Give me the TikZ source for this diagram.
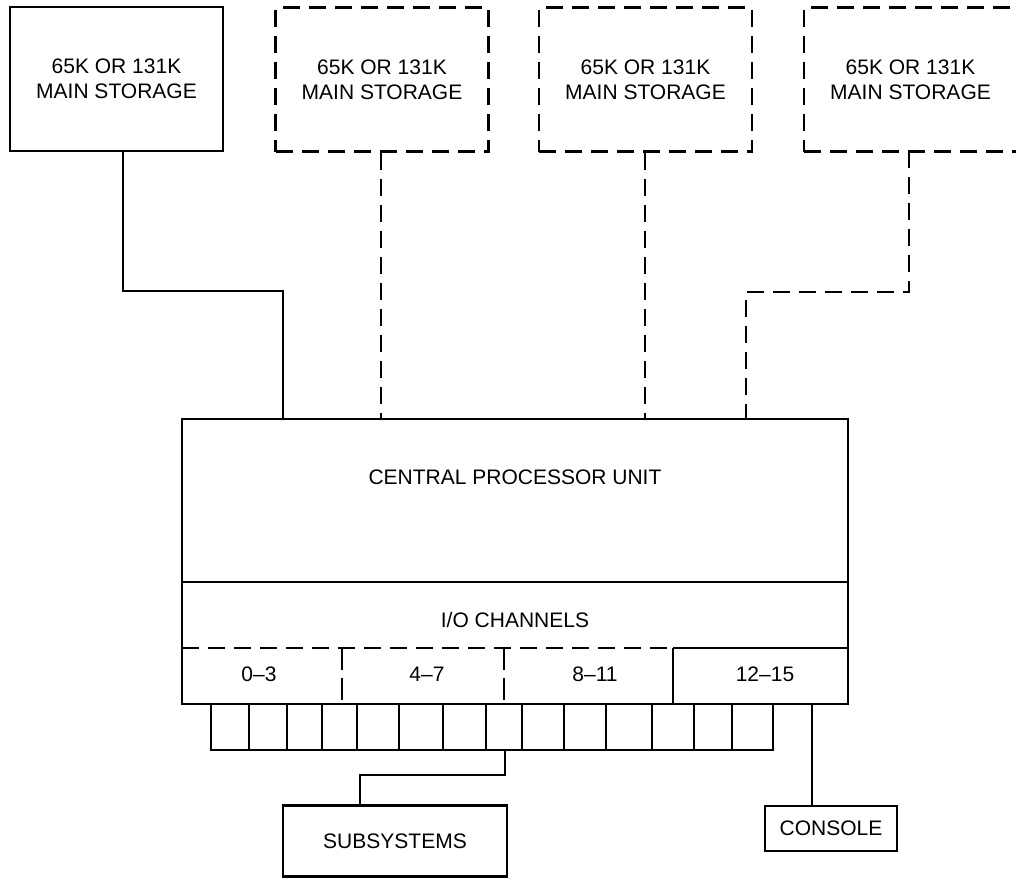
\documentclass[tikz,border=0pt]{standalone}
\usepackage{fontspec}
\setmainfont{Liberation Sans}
\begin{document}
\begin{tikzpicture}[x=1pt,y=-1pt,
  ln/.style={line width=2.6pt},
  dsh/.style={line width=2.6pt, dash pattern=on 17pt off 9pt},
  txt/.style={font=\fontsize{21}{25}\selectfont, align=center, inner sep=0pt},
  membox/.style={draw, line width=2.6pt, minimum width=213pt, minimum height=144pt,
    inner sep=0pt, font=\fontsize{21}{25}\selectfont, align=center},
  slot/.style={draw, line width=2.6pt, minimum height=46pt, inner sep=0pt},
]
\clip (0,0) rectangle (1016,879);
\fill[white] (0,0) rectangle (1016,879);

% main storage units
\node[membox] (m1) at (116.5,79) {65K OR 131K\\MAIN STORAGE};
\node[membox,dsh] (m2) at (382,79.5) {65K OR 131K\\MAIN STORAGE};
\node[membox,dsh] (m3) at (645.5,79.5) {65K OR 131K\\MAIN STORAGE};
\node[membox,dsh] (m4) at (910.5,79.5) {65K OR 131K\\MAIN STORAGE};

% CPU
\node[draw, ln, minimum width=666pt, minimum height=285pt, inner sep=0pt] (cpu) at (515,561.5) {};
\node[txt] (cpul) at (515,477) {CENTRAL PROCESSOR UNIT};
\node[txt] (iol) at (515,620) {I/O CHANNELS};
\draw[ln] (182,582) -- (848,582);
\draw[dsh] (182,648) -- (673,648);
\draw[ln] (673,648) -- (848,648);
\draw[ln] (673,648) -- (673,704);
\draw[line width=2.6pt, dash pattern=on 22pt off 8pt] (342,648) -- (342,704);
\draw[line width=2.6pt, dash pattern=on 22pt off 8pt] (504,648) -- (504,704);
\node[txt] (g0) at (259,674) {0–3};
\node[txt] (g1) at (427,674) {4–7};
\node[txt] (g2) at (595,674) {8–11};
\node[txt] (g3) at (765,674) {12–15};

% channel slots
\foreach \a/\b [count=\i] in {211/249,249/287,287/322,322/357,357/399,399/443,443/486,486/522,522/564,564/606,606/652,652/694,694/732,732/773}
  \node[slot, minimum width={\b-\a}] (s\i) at ({(\a+\b)/2},727) {};

% storage connectors
\coordinate (a1) at (123,151);
\coordinate (c1) at (283,419);
\coordinate (c2) at (381,419);
\coordinate (c3) at (645,419);
\coordinate (a4) at (909,151);
\coordinate (c4) at (746,419);
\draw[ln] (a1) -- (a1 |- 0,291) -| (c1);
\draw[dsh] (m2.south -| c2) -- (c2);
\draw[dsh] (m3.south -| c3) -- (c3);
\draw[dsh] (a4) -- (a4 |- 0,292) -| (c4);

% subsystems and console
\node[draw, ln, minimum width=224pt, minimum height=71pt, inner sep=0pt,
  font=\fontsize{21}{25}\selectfont] (sub) at (395,841) {SUBSYSTEMS};
\node[draw, ln, minimum width=132pt, minimum height=45pt, inner sep=0pt,
  font=\fontsize{21}{25}\selectfont] (con) at (831,828.5) {CONSOLE};
\coordinate (subin) at (360,805.5);
\draw[ln] (s9.south -| 505,0) -- (505,775) -| (subin);
\coordinate (cc) at (812,704);
\draw[ln] (cc) -- (cc |- con.north);
\end{tikzpicture}
\end{document}
